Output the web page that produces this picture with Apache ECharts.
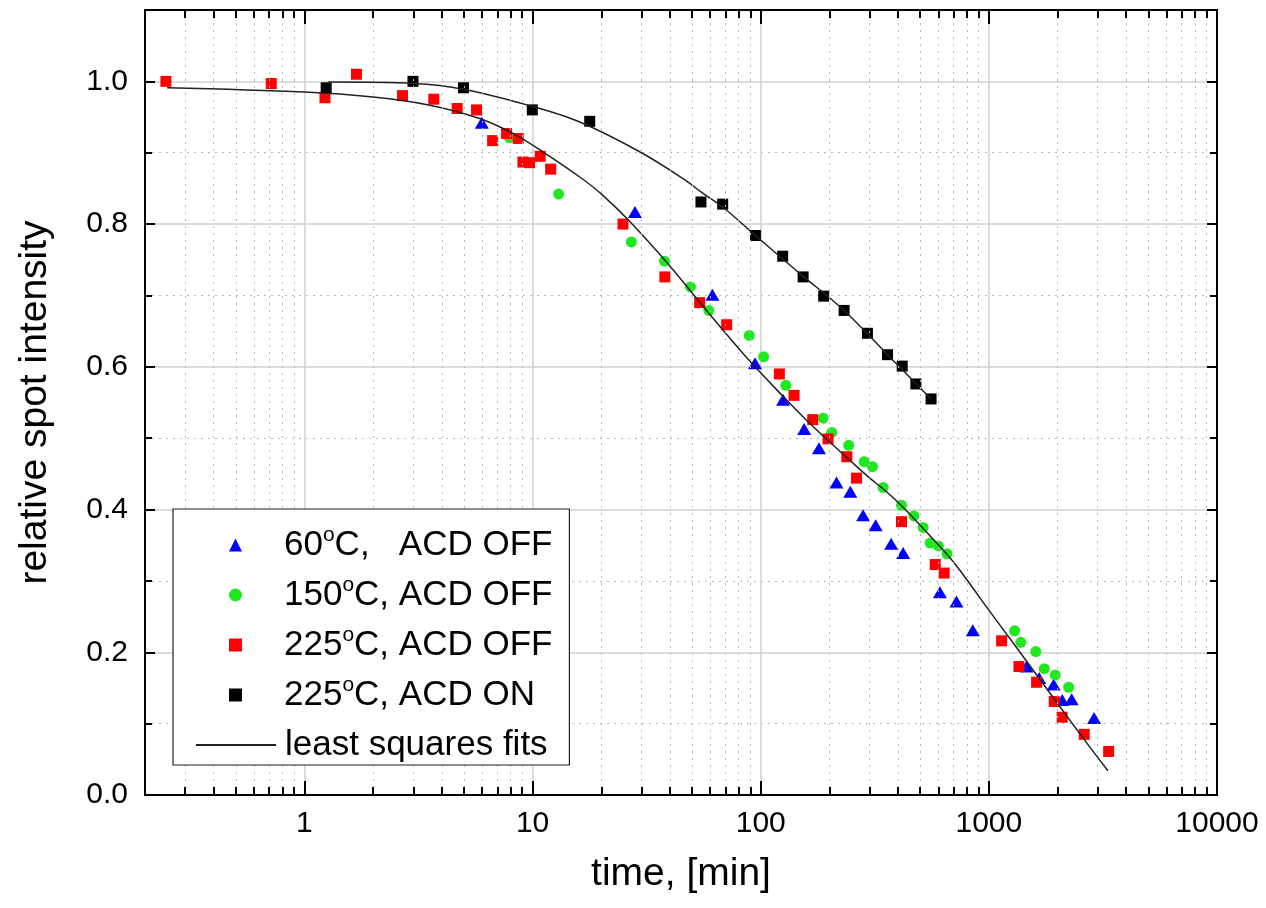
<!DOCTYPE html>
<html><head><meta charset="utf-8">
<script src="https://cdn.jsdelivr.net/npm/echarts@6/dist/echarts.min.js"></script>
<style>html,body{margin:0;padding:0;background:#fff}#c{width:1266px;height:908px}</style>
</head><body><div id="c"></div>
<script>
// ---- data (time in min, relative spot intensity) ----
const t60 = [5.99, 28.1, 61.4, 94.4, 125.3, 155, 180, 214.8, 247, 281, 319, 373, 421, 610, 721, 850, 1463, 1662, 1923, 2096, 2306, 2891];
const v60 = [0.942, 0.817, 0.701, 0.605, 0.554, 0.513, 0.486, 0.438, 0.425, 0.392, 0.378, 0.352, 0.339, 0.284, 0.271, 0.231, 0.180, 0.164, 0.155, 0.133, 0.134, 0.108];

const t150 = [7.93, 13.0, 27.1, 37.9, 49.2, 59.2, 89.1, 103, 128.8, 187.7, 204.8, 243, 284, 309, 344, 414, 469, 515, 553, 601, 656, 1297, 1381, 1606, 1749, 1954, 2238];
const v150 = [0.921, 0.842, 0.775, 0.748, 0.712, 0.679, 0.644, 0.614, 0.574, 0.528, 0.508, 0.490, 0.467, 0.460, 0.431, 0.406, 0.391, 0.375, 0.353, 0.349, 0.338, 0.230, 0.214, 0.201, 0.177, 0.168, 0.151];

const t225off = [0.247, 0.715, 1.23, 1.69, 2.69, 3.69, 4.67, 5.68, 6.68, 7.69, 8.65, 9.07, 9.7, 10.8, 12.0, 24.9, 38.0, 54, 70.9, 120.7, 140, 169, 197.3, 238.5, 263, 414, 582, 637, 1137, 1355, 1619, 1935, 2096, 2618, 3350];
const v225off = [1.0, 0.997, 0.977, 1.01, 0.98, 0.975, 0.962, 0.960, 0.917, 0.927, 0.920, 0.887, 0.886, 0.895, 0.877, 0.800, 0.726, 0.690, 0.659, 0.590, 0.560, 0.526, 0.499, 0.474, 0.444, 0.383, 0.323, 0.311, 0.216, 0.180, 0.158, 0.131, 0.109, 0.085, 0.061];

const t225on = [1.245, 2.99, 4.98, 9.97, 17.8, 54.7, 68.1, 94.8, 124.8, 153.4, 188.8, 232, 293.6, 359.5, 417, 478.6, 558];
const v225on = [0.991, 1.0, 0.991, 0.960, 0.944, 0.831, 0.828, 0.784, 0.755, 0.726, 0.699, 0.679, 0.647, 0.617, 0.601, 0.576, 0.555];

// least squares fit curves
const fitOffT = [0.25, 1, 2, 3.5, 5.86, 8.2, 11, 16.1, 20.1, 26.6, 38.7, 54, 70.2, 89.5, 124.9, 154.4, 196.8, 245.7, 300.7, 349.9, 415.4, 518.8, 647.8, 746.3, 850.9, 1000, 1327, 1851, 2584, 3325];
const fitOffV = [0.991, 0.985, 0.978, 0.967, 0.948, 0.927, 0.902, 0.866, 0.8417, 0.804, 0.7465, 0.6905, 0.647, 0.608, 0.559, 0.529, 0.497, 0.469, 0.444, 0.427, 0.405, 0.3725, 0.339, 0.315, 0.290, 0.259, 0.206, 0.143, 0.080, 0.034];
const fitOnT = [1.27, 3, 4.98, 9.7, 16.1, 30, 47, 54.7, 68.1, 94.8, 148, 232, 359.5, 558];
const fitOnV = [0.999, 0.997, 0.989, 0.966, 0.943, 0.900, 0.861, 0.845, 0.824, 0.784, 0.731, 0.679, 0.617, 0.555];

// series names
const names = ['60°C,   ACD OFF', '150°C, ACD OFF', '225°C, ACD OFF', '225°C, ACD ON', 'least squares fits'];

// axis ticks
const xMajorTicks = [1, 10, 100, 1000, 10000];
const xMinorTicks = [0.3, 0.4, 0.5, 0.6, 0.7, 0.8, 0.9,
  2, 3, 4, 5, 6, 7, 8, 9,
  20, 30, 40, 50, 60, 70, 80, 90,
  200, 300, 400, 500, 600, 700, 800, 900,
  2000, 3000, 4000, 5000, 6000, 7000, 8000, 9000];
const yMin = 0, yMax = 1.1, yStep = 0.2;
const xMin = 0.2, xMax = 10000;

const zip = (a, b) => a.map((x, i) => [x, b[i]]);
const FONT = 'Liberation Sans, Arial, sans-serif';
const minorTickLen = 0.0112; // in y units (~8px)

const chart = echarts.init(document.getElementById('c'), null, { renderer: 'canvas' });

const frame = { show: true, onZero: false, lineStyle: { color: '#000', width: 2 } };
const legendText = (padLeft) => ({
  color: '#000', fontSize: 35, fontFamily: FONT, lineHeight: 40, padding: [0, 0, 0, padLeft],
  rich: { sup: { fontSize: 21, fontFamily: FONT, color: '#000', lineHeight: 40, verticalAlign: 'top' } }
});
const option = {
  animation: false,
  backgroundColor: '#fff',
  textStyle: { fontFamily: FONT },
  grid: { left: 145, top: 10, width: 1072, height: 785, containLabel: false },
  xAxis: [
    {
      type: 'log', logBase: 10, min: xMin, max: xMax, position: 'bottom',
      axisLine: frame,
      axisTick: { show: true, inside: true, length: 14, lineStyle: { color: '#000', width: 2 } },
      minorTick: { show: false },
      splitLine: { show: true, lineStyle: { color: '#cfcfcf', width: 1.5 } },
      axisLabel: {
        color: '#000', fontSize: 30, fontFamily: FONT, margin: 14,
        formatter: v => (xMajorTicks.some(m => Math.abs(v - m) / m < 1e-6) ? String(Math.round(v)) : '')
      },
      name: 'time, [min]', nameLocation: 'middle', nameGap: 60,
      nameTextStyle: { color: '#000', fontSize: 39, fontFamily: FONT }
    },
    {
      type: 'log', logBase: 10, min: xMin, max: xMax, position: 'top',
      axisLine: frame,
      axisTick: { show: true, inside: true, length: 14, lineStyle: { color: '#000', width: 2 } },
      axisLabel: { show: false }, splitLine: { show: false }, minorTick: { show: false }
    }
  ],
  yAxis: [
    {
      type: 'value', min: yMin, max: yMax, interval: yStep, position: 'left',
      axisLine: frame,
      axisTick: { show: true, inside: true, length: 10, lineStyle: { color: '#000', width: 2 } },
      minorTick: { show: true, splitNumber: 2, length: 7, lineStyle: { color: '#000', width: 2 } },
      splitLine: { show: true, lineStyle: { color: '#cfcfcf', width: 1.5 } },
      minorSplitLine: { show: true, lineStyle: { color: '#b8b8b8', width: 1, type: [2, 5] } },
      axisLabel: {
        color: '#000', fontSize: 30, fontFamily: FONT, margin: 17,
        formatter: v => (v > 1.05 ? '' : v.toFixed(1))
      },
      name: 'relative spot intensity', nameLocation: 'middle', nameGap: 90,
      nameTextStyle: { color: '#000', fontSize: 39, fontFamily: FONT }
    },
    {
      type: 'value', min: yMin, max: yMax, interval: yStep, position: 'right',
      axisLine: frame,
      axisTick: { show: true, inside: true, length: 10, lineStyle: { color: '#000', width: 2 } },
      minorTick: { show: true, splitNumber: 2, length: 7, lineStyle: { color: '#000', width: 2 } },
      axisLabel: { show: false }, splitLine: { show: false }
    }
  ],
  legend: [
    {
      orient: 'vertical', left: 173, top: 509, z: 10,
      padding: [16, 17, 50, 56], itemGap: 10, itemWidth: 13, itemHeight: 13,
      borderColor: '#222', borderWidth: 1.2, backgroundColor: '#fff',
      data: [
        { name: names[0], icon: 'triangle' },
        { name: names[1], icon: 'circle' },
        { name: names[2], icon: 'rect' },
        { name: names[3], icon: 'rect' }
      ],
      formatter: n => n.replace('°', '{sup|o}'),
      textStyle: legendText(37)
    },
    {
      orient: 'vertical', left: 173, top: 725, z: 11,
      padding: [0, 17, 0, 22], itemWidth: 80, itemHeight: 12,
      backgroundColor: 'transparent', borderWidth: 0,
      data: [
        { name: names[4], itemStyle: { color: 'rgba(0,0,0,0)', borderWidth: 0, opacity: 0 } }
      ],
      textStyle: legendText(4)
    }
  ],
  series: [
    {
      name: 'grid-minor', type: 'line', data: [], silent: true, z: 1,
      markLine: {
        silent: true, symbol: ['none', 'none'], animation: false, label: { show: false },
        lineStyle: { color: '#b8b8b8', width: 1, type: [2, 5] },
        emphasis: { disabled: true },
        data: xMinorTicks.map(t => ({ xAxis: t }))
      }
    },
    {
      name: 'tick-minor', type: 'line', data: [], silent: true, z: 5,
      markLine: {
        silent: true, symbol: ['none', 'none'], animation: false, label: { show: false },
        lineStyle: { color: '#000', width: 2, type: 'solid' },
        emphasis: { disabled: true },
        data: xMinorTicks.map(t => [{ coord: [t, yMin] }, { coord: [t, yMin + minorTickLen] }])
          .concat(xMinorTicks.map(t => [{ coord: [t, yMax] }, { coord: [t, yMax - minorTickLen] }]))
      }
    },
    {
      name: names[0], type: 'scatter', data: zip(t60, v60), symbol: 'triangle', symbolSize: [14, 12],
      itemStyle: { color: '#0000ff', opacity: 1 }, z: 3
    },
    {
      name: names[1], type: 'scatter', data: zip(t150, v150), symbol: 'circle', symbolSize: 11,
      itemStyle: { color: '#1fe81f', opacity: 1 }, z: 3
    },
    {
      name: names[2], type: 'scatter', data: zip(t225off, v225off), symbol: 'rect', symbolSize: 11,
      itemStyle: { color: '#ff0000', opacity: 1 }, z: 3
    },
    {
      name: names[3], type: 'scatter', data: zip(t225on, v225on), symbol: 'rect', symbolSize: 11,
      itemStyle: { color: '#000000', opacity: 1 }, z: 3
    },
    {
      name: names[4], type: 'line', data: zip(fitOffT, fitOffV), symbol: 'none', showSymbol: false,
      smooth: 0.35, lineStyle: { color: '#222', width: 1.5 }, itemStyle: { color: '#222' }, z: 4
    },
    {
      name: names[4], type: 'line', data: zip(fitOnT, fitOnV), symbol: 'none', showSymbol: false,
      smooth: 0.35, lineStyle: { color: '#222', width: 1.5 }, itemStyle: { color: '#222' }, z: 4
    }
  ]
};
chart.setOption(option);
</script>
</body></html>
